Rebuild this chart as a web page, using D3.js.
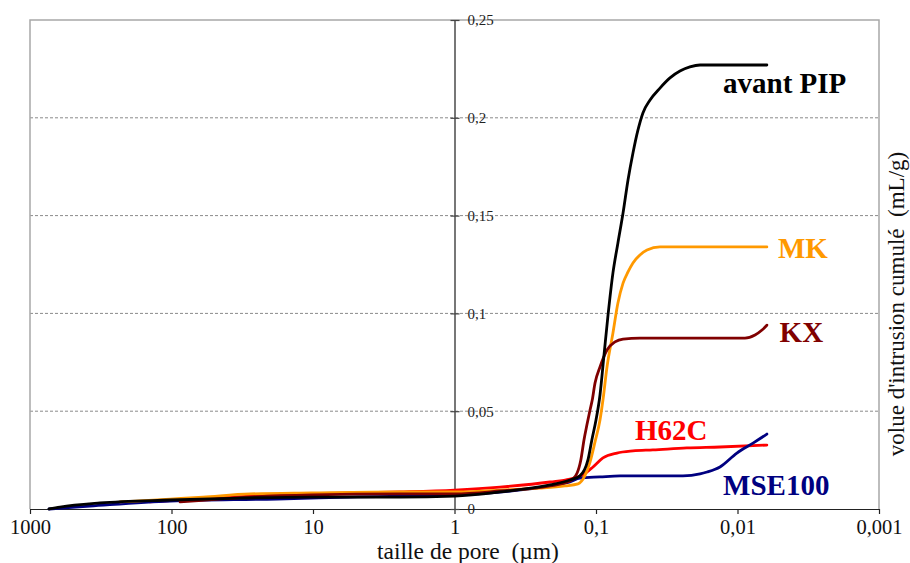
<!DOCTYPE html>
<html>
<head>
<meta charset="utf-8">
<script src="https://cdn.jsdelivr.net/npm/d3@7"></script>
<style>
  html, body { margin: 0; padding: 0; background: #fff; }
  svg { display: block; font-family: "Liberation Serif", "Times New Roman", serif; }
</style>
</head>
<body>
<svg id="chart" width="910" height="563"></svg>
<script>
// ---- Data (pore size in µm, cumulative intrusion volume in mL/g) ----
const seriesNames = ["H62C", "MSE100", "MK", "KX", "avant PIP"];
const seriesColors = ["#ff0000", "#000080", "#ff9900", "#800000", "#000000"];

const avantPIP = [
  [734,0],[614,0.001],[320,0.0031],[102,0.0046],[32.8,0.0056],[10.2,0.0061],[2.43,0.0061],
  [1.0,0.0066],[0.477,0.0087],[0.211,0.0123],[0.153,0.0148],[0.130,0.0169],[0.114,0.0251],
  [0.107,0.0353],[0.100,0.0455],[0.0937,0.0583],[0.0878,0.0787],[0.0822,0.0992],[0.0759,0.1207],
  [0.0700,0.136],[0.0644,0.1513],[0.0594,0.1682],[0.0548,0.182],[0.0505,0.1938],[0.0466,0.2025],
  [0.0415,0.2091],[0.0353,0.2152],[0.0300,0.2204],[0.0255,0.2239],[0.0217,0.226],[0.0184,0.227],
  [0.0062,0.227]
];
const MK = [
  [231,0.0036],[102,0.0051],[59.9,0.0061],[27.9,0.0077],[10.2,0.0082],[2.43,0.0087],[1.0,0.0087],
  [0.477,0.0097],[0.249,0.0107],[0.166,0.0118],[0.134,0.0128],[0.120,0.0169],[0.1102,0.024],
  [0.1016,0.0343],[0.0937,0.0455],[0.0893,0.0557],[0.0836,0.0726],[0.0759,0.09],[0.0700,0.1053],
  [0.0644,0.1155],[0.0594,0.1212],[0.0548,0.1258],[0.0489,0.1299],[0.0436,0.1324],[0.0353,0.134],
  [0.0255,0.134],[0.0062,0.134]
];
const KX = [
  [87,0.0036],[27.9,0.0061],[10.2,0.0072],[2.43,0.0077],[1.0,0.0077],[0.477,0.0092],[0.211,0.0118],
  [0.153,0.0143],[0.136,0.0184],[0.128,0.025],[0.1216,0.0353],[0.116,0.0429],[0.1102,0.0506],
  [0.1063,0.0557],[0.1016,0.0644],[0.0937,0.0726],[0.0836,0.0813],[0.0734,0.0854],[0.0644,0.0869],
  [0.0489,0.0874],[0.0184,0.0874],[0.00886,0.0874],[0.00752,0.089],[0.00671,0.0915],[0.0062,0.094]
];
const H62C = [
  [142,0.0036],[27.9,0.0066],[10.2,0.0077],[2.43,0.0087],[1.0,0.0097],[0.477,0.0112],[0.211,0.0138],
  [0.153,0.0153],[0.124,0.0174],[0.105,0.0215],[0.0893,0.0261],[0.0711,0.0286],[0.0548,0.0297],
  [0.0396,0.0302],[0.0228,0.0312],[0.0133,0.0317],[0.0062,0.0327]
];
const MSE100 = [
  [734,0],[377,0.0015],[102,0.0041],[17.9,0.0051],[5.48,0.0061],[1.0,0.0072],[0.477,0.0087],
  [0.211,0.0118],[0.153,0.0138],[0.130,0.0158],[0.0937,0.0164],[0.0676,0.0169],[0.0243,0.0169],
  [0.0184,0.0179],[0.0164,0.0189],[0.0133,0.0215],[0.0101,0.0286],[0.00777,0.0337],[0.0062,0.0383]
];
const seriesData = [H62C, MSE100, MK, KX, avantPIP];

const xTickValues = [1000, 100, 10, 1, 0.1, 0.01, 0.001];
const xTickLabels = ["1000", "100", "10", "1", "0,1", "0,01", "0,001"];
const yTickValues = [0, 0.05, 0.1, 0.15, 0.2, 0.25];
const yTickLabels = ["0", "0,05", "0,1", "0,15", "0,2", "0,25"];

// label anchors in data space (pore size, volume)
const labelAnchors = [[0.053, 0.0353], [0.01265, 0.0072], [0.00518, 0.1283], [0.00504, 0.0854], [0.01265, 0.2127]];

// ---- Layout ----
const svg = d3.select("#chart");
const m = { left: 30, top: 20, right: 879, bottom: 509 };

const x = d3.scaleLog().domain([1000, 0.001]).range([m.left, m.right]);
const y = d3.scaleLinear().domain([0, 0.25]).range([m.bottom, m.top]);
const yAxisX = x(1);

// gridlines
svg.append("g").selectAll("line")
  .data(yTickValues.filter(v => v > 0 && v < 0.25))
  .join("line")
  .attr("x1", m.left).attr("x2", m.right)
  .attr("y1", d => y(d)).attr("y2", d => y(d))
  .attr("stroke", "#8a8a8a").attr("stroke-width", 1)
  .attr("stroke-dasharray", "3,2");

// frame (left, top, right)
svg.append("path")
  .attr("d", `M${m.left},${m.bottom} V${m.top} H${m.right} V${m.bottom}`)
  .attr("fill", "none").attr("stroke", "#a8a8a8").attr("stroke-width", 1.5);

// x axis
const xAxis = d3.axisBottom(x)
  .tickValues(xTickValues)
  .tickFormat((d, i) => xTickLabels[i])
  .tickSizeInner(5).tickSizeOuter(0).tickPadding(5);
const gx = svg.append("g").attr("transform", `translate(0,${m.bottom})`).call(xAxis);
gx.select(".domain").attr("stroke", "#222").attr("stroke-width", 1.2);
gx.selectAll(".tick line").attr("stroke", "#222").attr("stroke-width", 1.2);
gx.selectAll(".tick text").attr("font-family", "Liberation Serif").attr("font-size", 20.5).attr("fill", "#111");

// y axis drawn at x = 1 µm
const yAxis = d3.axisRight(y)
  .tickValues(yTickValues)
  .tickFormat((d, i) => yTickLabels[i])
  .tickSizeInner(5).tickSizeOuter(0).tickPadding(8);
const gy = svg.append("g").attr("transform", `translate(${yAxisX},0)`).call(yAxis);
gy.select(".domain").attr("stroke", "#555").attr("stroke-width", 1.6);
gy.selectAll(".tick line").attr("x1", -4).attr("stroke", "#444").attr("stroke-width", 1.2);
gy.selectAll(".tick text").attr("font-family", "Liberation Serif").attr("font-size", 15).attr("fill", "#222");

// series lines
const line = d3.line()
  .x(d => x(d[0])).y(d => y(d[1]))
  .curve(d3.curveMonotoneX);

svg.append("g").selectAll("path")
  .data(seriesData)
  .join("path")
  .attr("d", d => line(d))
  .attr("fill", "none")
  .attr("stroke", (d, i) => seriesColors[i])
  .attr("stroke-width", 2.8)
  .attr("stroke-linejoin", "round")
  .attr("stroke-linecap", "round");

// series labels
svg.append("g").selectAll("text")
  .data(seriesNames)
  .join("text")
  .attr("x", (d, i) => x(labelAnchors[i][0]))
  .attr("y", (d, i) => y(labelAnchors[i][1]))
  .attr("font-family", "Liberation Serif")
  .attr("font-weight", "bold")
  .attr("font-size", 29)
  .attr("fill", (d, i) => seriesColors[i])
  .text(d => d);

// axis titles
svg.append("text")
  .attr("x", 468).attr("y", 558.5)
  .attr("text-anchor", "middle")
  .attr("font-family", "Liberation Serif")
  .attr("font-size", 23.5)
  .attr("fill", "#111")
  .style("white-space", "pre")
  .text("taille de pore  (µm)");

svg.append("text")
  .attr("transform", "translate(904,304) rotate(-90)")
  .attr("text-anchor", "middle")
  .attr("font-family", "Liberation Serif")
  .attr("font-size", 23)
  .attr("fill", "#111")
  .style("white-space", "pre")
  .text("volue d'intrusion cumulé  (mL/g)");
</script>
</body>
</html>
